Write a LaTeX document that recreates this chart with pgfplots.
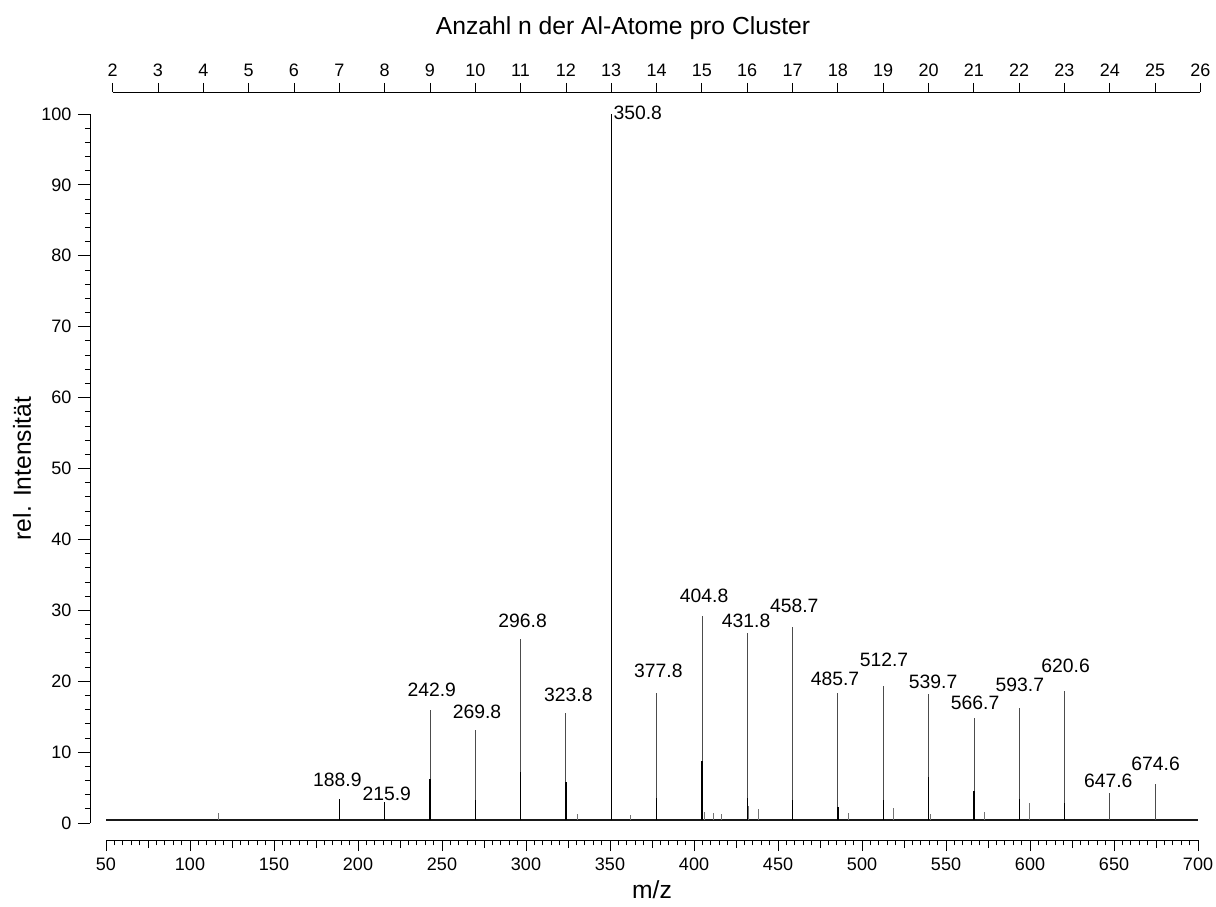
\documentclass[border=0pt]{standalone}
\usepackage{fontspec}
\setmainfont{Liberation Sans}
\usepackage{pgfplots}
\pgfplotsset{compat=1.18}
\newcommand{\tickfont}{\fontsize{13.5}{16}\selectfont}
\newcommand{\peakfont}{\fontsize{14.5}{17}\selectfont}
\newcommand{\labfont}{\fontsize{18.5}{22}\selectfont}
\begin{document}
\peakfont
\begin{tikzpicture}
\path[use as bounding box] (0pt,0pt) rectangle (912pt,679.5pt);
\pgfplotsset{every axis/.append style={scale only axis,
  /pgf/number format/assume math mode=true,
  tick label style={font=\tickfont},
  tick style={line width=0.6pt, black}}}
% ---------- data ----------
\begin{axis}[at={(79.5pt,62.25pt)}, anchor=south west, width=819pt, height=531.75pt,
  xmin=50, xmax=700, ymin=0, ymax=100, hide axis, clip=false, unbounded coords=jump]
% baseline
\addplot[black!90, line width=1.7pt] coordinates {(50,0.45) (700,0.45)};
% small peaks
\addplot[black!55, line width=0.7pt] coordinates {
 (116.7,0.42)(116.7,1.45)(116.7,nan)
 (330.4,0.42)(330.4,1.3)(330.4,nan)
 (361.9,0.42)(361.9,1.1)(361.9,nan)
 (406.0,0.42)(406.0,1.5)(406.0,nan)
 (411.3,0.42)(411.3,1.4)(411.3,nan)
 (416.1,0.42)(416.1,1.3)(416.1,nan)
 (432.5,0.42)(432.5,2.4)(432.5,nan)
 (438.1,0.42)(438.1,2.0)(438.1,nan)
 (492.1,0.42)(492.1,1.4)(492.1,nan)
 (518.9,0.42)(518.9,2.1)(518.9,nan)
 (540.5,0.42)(540.5,1.3)(540.5,nan)
 (573.0,0.42)(573.0,1.6)(573.0,nan)
 (599.8,0.42)(599.8,2.8)(599.8,nan)
};
% main peaks
\addplot[black!70, line width=0.75pt] coordinates {
 (242.9,0.42)(242.9,15.9)(242.9,nan)
 (269.8,0.42)(269.8,13.1)(269.8,nan)
 (296.8,0.42)(296.8,26.0)(296.8,nan)
 (323.8,0.42)(323.8,15.5)(323.8,nan)
 (377.8,0.42)(377.8,18.3)(377.8,nan)
 (404.8,0.42)(404.8,29.2)(404.8,nan)
 (431.8,0.42)(431.8,26.8)(431.8,nan)
 (458.7,0.42)(458.7,27.6)(458.7,nan)
 (485.7,0.42)(485.7,18.3)(485.7,nan)
 (512.7,0.42)(512.7,19.3)(512.7,nan)
 (539.7,0.42)(539.7,18.2)(539.7,nan)
 (566.7,0.42)(566.7,14.8)(566.7,nan)
 (593.7,0.42)(593.7,16.2)(593.7,nan)
 (620.6,0.42)(620.6,18.6)(620.6,nan)
 (647.6,0.42)(647.6,4.3)(647.6,nan)
 (674.6,0.42)(674.6,5.5)(674.6,nan)
};
\addplot[black, line width=0.75pt] coordinates {(350.8,0.42)(350.8,100)};
% dark lower parts
\addplot[black, line width=1.1pt] coordinates {
 (188.9,0.42)(188.9,3.4)(188.9,nan)
 (215.9,0.42)(215.9,2.9)(215.9,nan)
 (242.9,0.42)(242.9,6.2)(242.9,nan)
 (269.8,0.42)(269.8,3.2)(269.8,nan)
 (296.8,0.42)(296.8,7.2)(296.8,nan)
 (323.8,0.42)(323.8,5.8)(323.8,nan)
 (377.8,0.42)(377.8,3.5)(377.8,nan)
 (404.8,0.42)(404.8,8.7)(404.8,nan)
 (431.8,0.42)(431.8,3.5)(431.8,nan)
 (458.7,0.42)(458.7,3.2)(458.7,nan)
 (485.7,0.42)(485.7,2.3)(485.7,nan)
 (512.7,0.42)(512.7,3.2)(512.7,nan)
 (539.7,0.42)(539.7,6.5)(539.7,nan)
 (566.7,0.42)(566.7,4.5)(566.7,nan)
 (593.7,0.42)(593.7,3.4)(593.7,nan)
 (620.6,0.42)(620.6,2.8)(620.6,nan)
};
% peak labels
\node[font=\peakfont] at (axis cs:187.7,6.06) {188.9};
\node[font=\peakfont] at (axis cs:217.1,4.05) {215.9};
\node[font=\peakfont] at (axis cs:243.9,18.76) {242.9};
\node[font=\peakfont] at (axis cs:270.8,15.61) {269.8};
\node[font=\peakfont] at (axis cs:298.0,28.49) {296.8};
\node[font=\peakfont] at (axis cs:325.2,18.05) {323.8};
\node[font=\peakfont, anchor=west, inner sep=1.5pt] at (axis cs:350.8,100.2) {350.8};
\node[font=\peakfont] at (axis cs:378.8,21.48) {377.8};
\node[font=\peakfont] at (axis cs:406.0,32.06) {404.8};
\node[font=\peakfont] at (axis cs:431.0,28.53) {431.8};
\node[font=\peakfont] at (axis cs:459.7,30.61) {458.7};
\node[font=\peakfont] at (axis cs:483.9,20.31) {485.7};
\node[font=\peakfont] at (axis cs:513.1,22.99) {512.7};
\node[font=\peakfont] at (axis cs:542.3,19.93) {539.7};
\node[font=\peakfont] at (axis cs:567.3,16.88) {566.7};
\node[font=\peakfont] at (axis cs:594.0,19.46) {593.7};
\node[font=\peakfont] at (axis cs:621.2,22.14) {620.6};
\node[font=\peakfont] at (axis cs:646.6,5.92) {647.6};
\node[font=\peakfont] at (axis cs:674.8,8.32) {674.6};
\end{axis}
% ---------- left y axis ----------
\begin{axis}[at={(67.5pt,62.25pt)}, anchor=south west, width=819pt, height=531.75pt,
  xmin=0, xmax=1, ymin=0, ymax=100, axis y line=left, axis x line=none,
  xtick=\empty, ytick={0,10,...,100}, minor y tick num=4, tick align=outside,
  major tick length=9pt, minor tick length=3.75pt,
  ylabel={rel. Intensität},
  ylabel style={font=\labfont, at={(axis description cs:-0.0623,0.5)}, anchor=center},
  axis line style={-, line width=0.7pt}]
\end{axis}
% ---------- bottom x axis ----------
\begin{axis}[at={(79.5pt,49.5pt)}, anchor=south west, width=819pt, height=10pt,
  xmin=50, xmax=700, ymin=0, ymax=1, axis x line=bottom, axis y line=none,
  ytick=\empty, xtick={50,100,...,700}, minor x tick num=9,
  extra x ticks={75,125,...,675}, extra x tick labels={,,,,,,,,,,,,},
  extra x tick style={major tick length=6pt},
  tick align=outside, major tick length=8.25pt, minor tick length=4pt,
  xlabel={m/z},
  xlabel style={font=\labfont, at={(axis description cs:0.5,0)}, anchor=center, yshift=-37.5pt},
  axis line style={-, line width=0.7pt}]
\end{axis}
% ---------- top x axis ----------
\begin{axis}[at={(84.49pt,600.5pt)}, anchor=south west, width=815.85pt, height=10pt,
  xmin=2, xmax=26, ymin=0, ymax=1, axis x line=top, axis y line=none,
  ytick=\empty, xtick={2,3,...,26}, tick align=outside, major tick length=6.75pt,
  xlabel={Anzahl n der Al-Atome pro Cluster},
  xlabel style={font=\labfont, at={(axis description cs:0.4692,1)}, anchor=center, yshift=48pt},
  axis line style={-, line width=0.7pt}]
\end{axis}
\end{tikzpicture}
\end{document}
